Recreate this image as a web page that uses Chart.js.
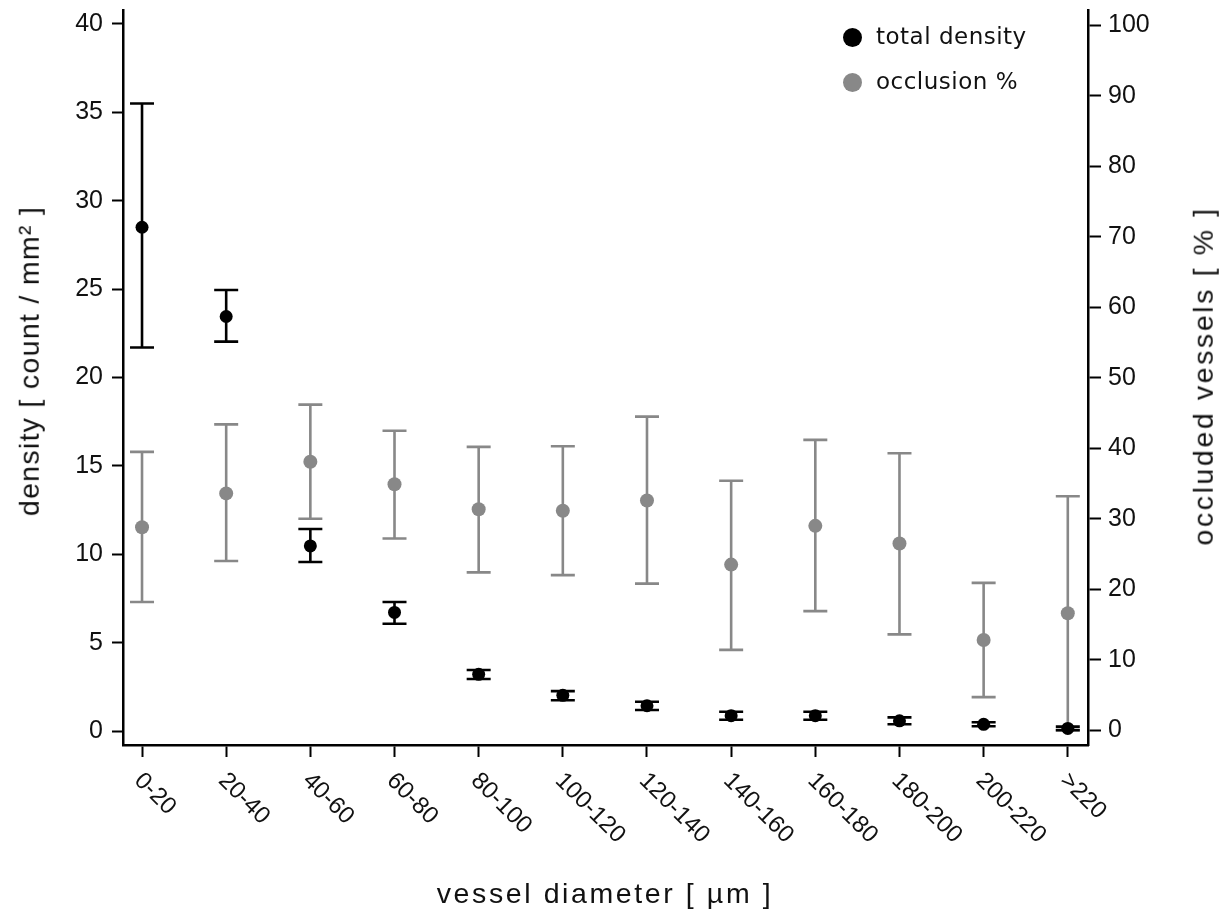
<!DOCTYPE html>
<html>
<head>
<meta charset="utf-8">
<script src="https://cdn.jsdelivr.net/npm/chart.js@4/dist/chart.umd.min.js"></script>
<style>
  html, body { margin: 0; padding: 0; background: #fff; }
  #wrap { position: relative; width: 1229px; height: 913px; font-family: "Liberation Sans", Arial, sans-serif; color: #111; }
  #chart { position: absolute; left: 0; top: 0; }
  .axis-title { position: absolute; font-size: 28.5px; line-height: 1; white-space: nowrap; transform: translate(-50%, -50%); }
  .legend-dot { position: absolute; width: 19px; height: 19px; border-radius: 50%; }
  .legend-text { position: absolute; font-family: "DejaVu Sans", sans-serif; font-size: 23px; letter-spacing: 0.5px; line-height: 26px; white-space: nowrap; color: #111; }
</style>
</head>
<body>
<div id="wrap">
  <canvas id="chart" width="1229" height="913"></canvas>
  <div class="axis-title" style="left:29px; top:361px; letter-spacing:1.3px; transform: translate(-50%, -50%) rotate(-90deg);">density [ count / mm² ]</div>
  <div class="axis-title" style="left:1203px; top:376px; letter-spacing:2.6px; transform: translate(-50%, -50%) rotate(-90deg);">occluded vessels [ % ]</div>
  <div class="axis-title" style="left:605px; top:893px; letter-spacing:2.6px;">vessel diameter [ µm ]</div>
  <div class="legend-dot" style="left:843px; top:28px; background:#000;"></div>
  <div class="legend-text" style="left:876px; top:23px;">total density</div>
  <div class="legend-dot" style="left:843px; top:73px; background:#888;"></div>
  <div class="legend-text" style="left:876px; top:68px;">occlusion %</div>
</div>
<script>
const categories = ["0-20", "20-40", "40-60", "60-80", "80-100", "100-120", "120-140", "140-160", "160-180", "180-200", "200-220", ">220"];

// total density, count / mm² (left axis)
const densityMean = [28.5, 23.45, 10.47, 6.71, 3.21, 2.02, 1.43, 0.87, 0.87, 0.58, 0.38, 0.15];
const densityLow  = [21.7, 22.03, 9.56, 6.07, 2.94, 1.74, 1.19, 0.64, 0.64, 0.38, 0.27, 0.05];
const densityHigh = [35.5, 24.95, 11.43, 7.3, 3.45, 2.26, 1.66, 1.09, 1.09, 0.77, 0.5, 0.25];

// occluded vessels, % (right axis)
const occlusionMean = [28.8, 33.6, 38.1, 34.9, 31.35, 31.15, 32.6, 23.5, 29.0, 26.5, 12.8, 16.6];
const occlusionLow  = [18.2, 24.0, 30.0, 27.2, 22.4, 22.0, 20.8, 11.4, 16.9, 13.6, 4.7, 0.0];
const occlusionHigh = [39.5, 43.4, 46.2, 42.5, 40.2, 40.3, 44.5, 35.4, 41.2, 39.3, 20.9, 33.2];

const densityTicks = [0, 5, 10, 15, 20, 25, 30, 35, 40];
const occlusionTicks = [0, 10, 20, 30, 40, 50, 60, 70, 80, 90, 100];

const tickFont = { family: "'Liberation Sans', Arial, sans-serif", size: 25 };

// whiskers with caps, drawn under each dataset's points
const errorBars = {
  id: "errorBars",
  beforeDatasetDraw(chart, args) {
    const ds = chart.data.datasets[args.index];
    if (!ds.errLow) return;
    const ctx = chart.ctx;
    const xs = chart.scales.x;
    const ys = chart.scales[ds.yAxisID];
    ctx.save();
    ctx.strokeStyle = ds.pointBackgroundColor;
    ctx.lineWidth = 2.6;
    ds.data.forEach((p, i) => {
      const x = xs.getPixelForValue(p.x);
      const y1 = ys.getPixelForValue(ds.errLow[i]);
      const y2 = ys.getPixelForValue(ds.errHigh[i]);
      ctx.beginPath();
      ctx.moveTo(x, y1); ctx.lineTo(x, y2);
      ctx.moveTo(x - 12, y1); ctx.lineTo(x + 12, y1);
      ctx.moveTo(x - 12, y2); ctx.lineTo(x + 12, y2);
      ctx.stroke();
    });
    ctx.restore();
  }
};

// category labels turned 45° clockwise, starting at the tick
const slantLabels = {
  id: "slantLabels",
  afterDraw(chart) {
    const ctx = chart.ctx;
    const xs = chart.scales.x;
    ctx.save();
    ctx.font = "24px 'Liberation Sans', Arial, sans-serif";
    ctx.fillStyle = "#111";
    ctx.textAlign = "left";
    ctx.textBaseline = "middle";
    categories.forEach((c, i) => {
      const x = xs.getPixelForValue(i);
      ctx.save();
      ctx.translate(x - 4, chart.chartArea.bottom + 32);
      ctx.rotate(Math.PI / 4);
      ctx.fillText(c, 0, 0);
      ctx.restore();
    });
    ctx.restore();
  }
};

const axisGrid = { drawOnChartArea: false, drawTicks: true, tickLength: 11, tickWidth: 2, tickColor: "#000" };
const axisBorder = { display: true, color: "#000", width: 2.5 };

new Chart(document.getElementById("chart"), {
  type: "scatter",
  data: {
    datasets: [
      {
        label: "total density",
        data: densityMean.map((v, i) => ({ x: i, y: v })),
        errLow: densityLow,
        errHigh: densityHigh,
        yAxisID: "y",
        pointRadius: 6.5,
        pointBorderWidth: 0,
        pointBackgroundColor: "#000",
        borderColor: "#000",
        showLine: false
      },
      {
        label: "occlusion %",
        data: occlusionMean.map((v, i) => ({ x: i, y: v })),
        errLow: occlusionLow,
        errHigh: occlusionHigh,
        yAxisID: "y2",
        pointRadius: 7,
        pointBorderWidth: 0,
        pointBackgroundColor: "#888",
        borderColor: "#888",
        showLine: false
      }
    ]
  },
  options: {
    responsive: false,
    animation: false,
    layout: { padding: { top: 10, left: 0, right: 0, bottom: 0 } },
    plugins: { legend: { display: false }, tooltip: { enabled: false } },
    scales: {
      x: {
        type: "linear",
        min: -0.226,
        max: 11.24,
        afterBuildTicks: (s) => { s.ticks = categories.map((_, i) => ({ value: i })); },
        afterFit: (s) => { s.height = 168; s.paddingLeft = 0; s.paddingRight = 0; },
        ticks: { display: false },
        grid: { ...axisGrid, tickLength: 12 },
        border: axisBorder
      },
      y: {
        position: "left",
        min: -0.79,
        max: 40.79,
        afterBuildTicks: (s) => { s.ticks = densityTicks.map(v => ({ value: v })); },
        afterFit: (s) => { s.width = 123; s.paddingTop = 0; s.paddingBottom = 0; },
        ticks: { font: tickFont, color: "#111", padding: 9 },
        grid: axisGrid,
        border: axisBorder
      },
      y2: {
        position: "right",
        min: -2.1,
        max: 102.2,
        afterBuildTicks: (s) => { s.ticks = occlusionTicks.map(v => ({ value: v })); },
        afterFit: (s) => { s.width = 141; s.paddingTop = 0; s.paddingBottom = 0; },
        ticks: { font: tickFont, color: "#111", padding: 7 },
        grid: { ...axisGrid, tickLength: 13 },
        border: axisBorder
      }
    }
  },
  plugins: [errorBars, slantLabels]
});
</script>
</body>
</html>
